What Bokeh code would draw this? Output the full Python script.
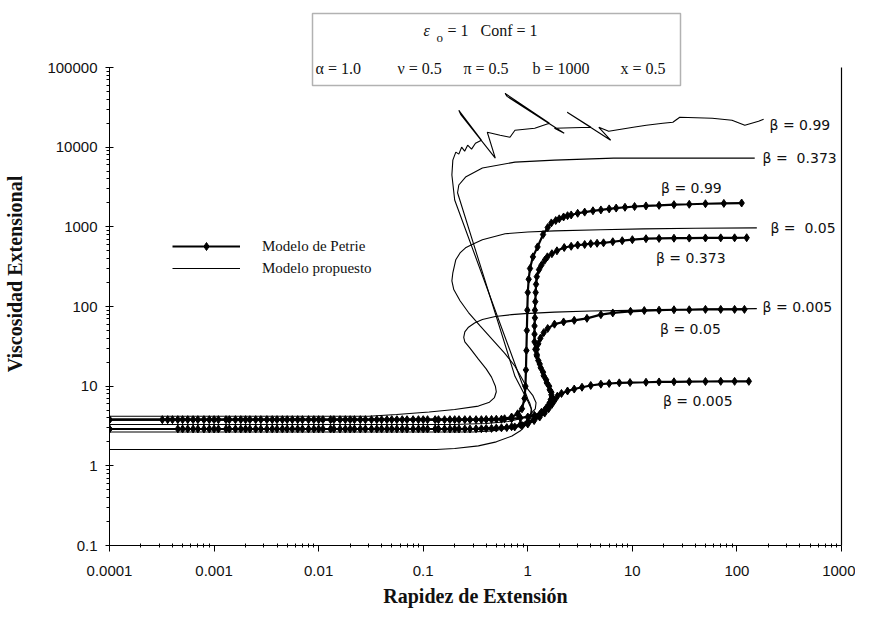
from bokeh.plotting import figure
from bokeh.models import (FixedTicker, CustomJSTickFormatter, Label, BoxAnnotation,
                          Legend, LegendItem, LogAxis, ColumnDataSource)
from bokeh.embed import file_html
from bokeh.resources import INLINE

# ---------------- data (rate of extension, extensional viscosity) ----------------
petrie_099 = [(0.0001,3.8),(0.00032,3.8),(0.0004,3.8),(0.0005,3.8),(0.00063,3.8),(0.0008,3.8),(0.001,3.8),
    (0.0013,3.8),(0.0016,3.8),(0.002,3.8),(0.0025,3.8),(0.0032,3.8),(0.004,3.8),(0.005,3.8),(0.0063,3.8),
    (0.008,3.8),(0.01,3.8),(0.013,3.8),(0.016,3.8),(0.02,3.8),(0.025,3.8),(0.032,3.8),(0.04,3.8),(0.05,3.8),
    (0.063,3.8),(0.08,3.8),(0.1,3.8),(0.13,3.8),(0.16,3.8),(0.2,3.8),(0.25,3.8),(0.32,3.8),(0.4,3.82),
    (0.5,3.85),(0.6,3.9),(0.7,4.1),(0.8,4.5),(0.88,5.2),(0.93,7),(0.95,10),(0.96,16),(0.97,28),(0.98,50),
    (0.99,90),(1.0,150),(1.02,220),(1.05,300),(1.12,420),(1.24,560),(1.4,800),(1.55,980),(1.68,1120),
    (1.85,1200),(2.0,1260),(2.2,1330),(2.4,1380),(2.6,1410),(3.0,1480),(3.5,1530),(4.2,1590),(5.0,1630),
    (6.0,1680),(7.0,1720),(8.5,1760),(10.5,1800),(13.5,1830),(18,1860),(25,1900),(35,1920),(50,1950),
    (75,1970),(111,1990)]

petrie_0373 = [(0.0001,3.8),(0.00036,3.8),(0.00045,3.8),(0.00056,3.8),(0.0007,3.8),(0.0009,3.8),(0.0011,3.8),
    (0.0014,3.8),(0.0018,3.8),(0.0022,3.8),(0.0028,3.8),(0.0036,3.8),(0.0045,3.8),(0.0056,3.8),(0.007,3.8),
    (0.009,3.8),(0.011,3.8),(0.014,3.8),(0.018,3.8),(0.022,3.8),(0.028,3.8),(0.036,3.8),(0.045,3.8),
    (0.056,3.8),(0.07,3.8),(0.09,3.8),(0.11,3.8),(0.14,3.8),(0.18,3.8),(0.22,3.8),(0.28,3.8),(0.36,3.8),
    (0.45,3.82),(0.56,3.85),(0.7,3.9),(0.85,4.0),(1.0,4.1),(1.16,4.3),(1.35,4.7),(1.5,5.3),(1.62,6.2),
    (1.7,7.3),(1.68,8.4),(1.6,10),(1.5,12),(1.4,15),(1.3,19),(1.22,24),(1.18,29),(1.16,36),(1.16,45),
    (1.16,57),(1.17,72),(1.17,90),(1.18,115),(1.19,150),(1.2,190),(1.22,237),(1.28,290),(1.35,330),
    (1.45,380),(1.54,420),(1.7,460),(1.9,500),(2.23,550),(2.6,570),(3.0,590),(3.5,600),(4.0,615),
    (4.6,622),(5.3,630),(6.5,650),(8.0,670),(10,690),(13.5,710),(18,715),(25,720),(35,722),(50,725),
    (70,727),(95,728),(124,730)]

petrie_005 = [(0.0001,2.9),(0.00045,2.9),(0.00056,2.9),(0.0007,2.9),(0.0009,2.9),(0.0011,2.9),(0.0014,2.9),
    (0.0018,2.9),(0.0022,2.9),(0.0028,2.9),(0.0036,2.9),(0.0045,2.9),(0.0056,2.9),(0.007,2.9),(0.009,2.9),
    (0.011,2.9),(0.014,2.9),(0.018,2.9),(0.022,2.9),(0.028,2.9),(0.036,2.9),(0.045,2.9),(0.056,2.9),
    (0.07,2.9),(0.09,2.9),(0.11,2.9),(0.14,2.9),(0.18,2.9),(0.22,2.9),(0.28,2.9),(0.36,2.92),(0.45,2.95),
    (0.56,3.0),(0.7,3.1),(0.85,3.3),(1.0,3.5),(1.15,3.9),(1.3,4.4),(1.45,5.0),(1.58,5.8),(1.66,6.8),
    (1.68,7.8),(1.62,9),(1.52,11),(1.42,13.5),(1.33,17),(1.26,21),(1.22,25),(1.22,29),(1.26,34),
    (1.32,40),(1.42,47),(1.55,53),(1.8,60),(2.2,64),(2.78,67),(3.68,71),(5,79),(6.5,83),(9.6,87),
    (13,89),(18,90),(25,91),(35,91),(50,92),(70,92),(95,92),(118,92)]

petrie_0005 = [(0.0001,2.9),(0.0005,2.9),(0.00063,2.9),(0.0008,2.9),(0.001,2.9),(0.0013,2.9),(0.0016,2.9),
    (0.002,2.9),(0.0025,2.9),(0.0032,2.9),(0.004,2.9),(0.005,2.9),(0.0063,2.9),(0.008,2.9),(0.01,2.9),
    (0.013,2.9),(0.016,2.9),(0.02,2.9),(0.025,2.9),(0.032,2.9),(0.04,2.9),(0.05,2.9),(0.063,2.9),
    (0.08,2.9),(0.1,2.9),(0.13,2.9),(0.16,2.9),(0.2,2.9),(0.25,2.9),(0.32,2.92),(0.4,2.95),(0.5,2.98),
    (0.63,3.02),(0.75,3.08),(0.88,3.2),(1.0,3.35),(1.15,3.7),(1.3,4.1),(1.45,4.6),(1.58,5.2),(1.7,5.9),
    (1.8,6.6),(1.92,7.5),(2.1,8.1),(2.4,8.7),(2.78,9.2),(3.3,9.7),(4,10.2),(5,10.6),(6,10.8),(7.5,11),
    (9.5,11.1),(13.5,11.2),(18,11.3),(25,11.35),(35,11.4),(50,11.45),(70,11.5),(95,11.5),(130,11.5)]

prop_099 = [(0.0001,1.6),(0.133,1.6),(0.2,1.65),(0.337,1.78),(0.5,2.0),(0.706,2.37),(0.85,2.75),(0.937,3.16),
    (1.03,3.7),(1.09,4.2),(1.09,5.0),(1.05,6.0),(1.0,6.9),(0.2,2170),(0.188,4470),(0.192,6880),(0.205,8660),
    (0.219,8170),(0.233,10000),(0.249,8910),(0.266,10590),(0.29,9440),(0.316,11220),(0.36,12240),
    (0.219,29000),(0.228,25850),(0.489,7290),(0.41,15400),(0.544,14130),(0.676,13340),(0.754,16310),
    (1.165,17280),(1.61,19950),(0.607,47300),(0.634,43400),(2.23,14960),(1.8,17280),(4.02,17780),
    (2.38,27390),(6.2,12240),(4.78,17780),(5.94,15850),(10.2,17780),(13.6,18840),(19.6,19950),
    (24.4,20540),(28.4,23710),(58.1,23040),(89.7,21750),(119,18840),(161,21130),(180,22390)]

prop_0373 = [(0.0001,2.66),(0.3,2.66),(0.45,2.75),(0.607,2.9),(0.8,3.15),(0.95,3.6),(1.06,4.3),(1.08,5.2),
    (1.0,6.5),(0.88,9),(0.754,13.3),(0.213,2680),(0.219,3350),(0.254,4220),(0.368,5465),(0.754,6490),
    (1.8,6880),(6.62,7290),(148,7290)]

prop_005 = [(0.0001,3.3),(0.2,3.3),(0.4,3.4),(0.65,3.6),(0.85,3.9),(1.05,4.4),(1.18,5.2),(1.2,6.2),(1.12,7.6),
    (1.0,9.2),(0.88,12.5),(0.754,17.8),(0.6,26),(0.457,38.7),(0.35,57),(0.271,84),(0.225,118),(0.196,163),
    (0.188,210),(0.192,265),(0.205,387),(0.225,470),(0.254,545),(0.3,610),(0.368,690),(0.607,818),
    (1.0,860),(1.8,890),(5,920),(12.7,944),(40,960),(155,970)]

prop_0005 = [(0.0001,4.2),(0.03,4.2),(0.0556,4.4),(0.114,4.73),(0.2,5.1),(0.337,5.62),(0.43,6.3),(0.48,7.2),
    (0.5,8.5),(0.49,10),(0.45,13),(0.4,16.5),(0.337,21.8),(0.28,30),(0.25,36),(0.244,41),(0.25,48),
    (0.271,55),(0.31,62),(0.368,68.8),(0.489,75),(0.7,79),(0.937,81.5),(1.8,85),(4,88),(12.7,90),
    (40,92),(155,94)]

# curve labels: (text, rate, viscosity)
curve_labels = [("β = 0.99", 205, 18840), ("β =\u00a0 0.373", 176, 7290), ("β = 0.99", 18.8, 3070),
                ("β =\u00a0 0.05", 209, 970), ("β = 0.373", 16.8, 410), ("β = 0.005", 176, 100),
                ("β = 0.05", 18.4, 51.6), ("β = 0.005", 19.6, 6.5)]

x_ticks = [0.0001, 0.001, 0.01, 0.1, 1, 10, 100, 1000]
y_ticks = [0.1, 1, 10, 100, 1000, 10000, 100000]
y_axis_top = 10 ** 5.816   # room above the axis for the parameter box


def src(pairs):
    return ColumnDataSource(dict(x=[a for a, b in pairs], y=[b for a, b in pairs]))


p = figure(width=855, height=612, x_axis_type="log", y_axis_type="log",
           x_range=(1e-4, 1e3), y_range=(0.1, y_axis_top), output_backend="svg",
           toolbar_location=None, min_border_left=109, min_border_right=14,
           min_border_top=2, min_border_bottom=67)
p.xgrid.visible = False
p.ygrid.visible = False
p.outline_line_color = None
p.background_fill_color = "white"

fmt = CustomJSTickFormatter(code="return tick >= 1 ? tick.toFixed(0) : tick.toString();")
x_minor = [m * 10.0 ** e for e in range(-4, 3) for m in range(2, 10)]
y_minor = [m * 10.0 ** e for e in range(-1, 5) for m in range(2, 10)]
p.xaxis.ticker = FixedTicker(ticks=x_ticks, minor_ticks=x_minor)
p.yaxis.ticker = FixedTicker(ticks=y_ticks, minor_ticks=y_minor)
p.yaxis.bounds = (y_ticks[0], y_ticks[-1])
for ax in (p.xaxis[0], p.yaxis[0]):
    ax.formatter = fmt
    ax.major_label_text_font = "Liberation Sans"
    ax.major_label_text_font_size = "15px"
    ax.major_label_text_color = "#111111"
    ax.axis_line_color = "black"
    ax.major_tick_line_color = "black"
    ax.minor_tick_line_color = "black"
    ax.axis_label_text_font = "Liberation Serif"
    ax.axis_label_text_font_style = "bold"
    ax.axis_label_text_font_size = "20px"
    ax.axis_label_text_color = "#111111"

p.xaxis.major_tick_in = 0
p.xaxis.major_tick_out = 6
p.xaxis.minor_tick_in = 2
p.xaxis.minor_tick_out = 2
p.xaxis.major_label_standoff = 14
p.xaxis.axis_label = "Rapidez de Extensión"
p.xaxis.axis_label_standoff = 6

p.yaxis.major_tick_in = 4
p.yaxis.major_tick_out = 4
p.yaxis.minor_tick_in = 0
p.yaxis.minor_tick_out = 3
p.yaxis.major_label_standoff = 8
p.yaxis.axis_label = "Viscosidad Extensional"
p.yaxis.axis_label_standoff = 18

right = LogAxis(bounds=(y_ticks[0], y_ticks[-1]), ticker=FixedTicker(ticks=[]),
                major_label_text_font_size="0px", major_tick_line_color=None,
                minor_tick_line_color=None, major_tick_in=0, major_tick_out=0,
                major_label_standoff=0, axis_label_standoff=0,
                axis_line_color="black", axis_line_width=1.2)
p.add_layout(right, "right")

# proposed model (thin lines)
prop_renderers = []
for pairs in (prop_099, prop_0373, prop_005, prop_0005):
    prop_renderers.append(p.line("x", "y", source=src(pairs), line_color="black", line_width=1.1))

# Petrie model (thick line + diamonds)
pet_lines, pet_marks = [], []
for pairs in (petrie_099, petrie_0373, petrie_005, petrie_0005):
    s = src(pairs)
    pet_lines.append(p.line("x", "y", source=s, line_color="black", line_width=2.2))
    pet_marks.append(p.scatter("x", "y", source=s, marker="diamond", size=8,
                               fill_color="black", line_color="black"))

for text, xv, yv in curve_labels:
    p.add_layout(Label(x=xv, y=yv, text=text, text_align="left", text_baseline="middle",
                       text_font="DejaVu Sans", text_font_size="14px", text_color="#111111"))

legend = Legend(items=[LegendItem(label="Modelo de Petrie", renderers=[pet_lines[0], pet_marks[0]]),
                       LegendItem(label="Modelo propuesto", renderers=[prop_renderers[0]])],
                location=(63, 267), glyph_width=68, glyph_height=20, label_height=20,
                label_standoff=22, spacing=2, padding=0, margin=0,
                border_line_color=None, background_fill_alpha=0,
                label_text_font="Liberation Serif", label_text_font_size="15px",
                label_text_color="#111111")
p.add_layout(legend)

# parameter box above the plot
p.add_layout(BoxAnnotation(left=203, right=571, bottom=460, top=532,
                           left_units="screen", right_units="screen",
                           bottom_units="screen", top_units="screen",
                           fill_color="white", fill_alpha=1.0,
                           line_color="black", line_width=1.5))
box_font = dict(text_font="Liberation Serif", text_font_size="16px", text_color="#111111",
                x_units="screen", y_units="screen", text_baseline="middle", text_align="left")
p.add_layout(Label(x=314, y=515, text="ε", text_font_style="italic", **box_font))
p.add_layout(Label(x=327, y=508, text="o", **{**box_font, "text_font_size": "13px"}))
p.add_layout(Label(x=338, y=515, text="= 1\u00a0\u00a0\u00a0Conf = 1", **box_font))
for xs, t in [(206, "α = 1.0"), (288, "ν = 0.5"), (354, "π = 0.5"), (423, "b = 1000"), (511, "x = 0.5")]:
    p.add_layout(Label(x=xs, y=477, text=t, **box_font))

open("out.html", "w").write(file_html(p, INLINE))
